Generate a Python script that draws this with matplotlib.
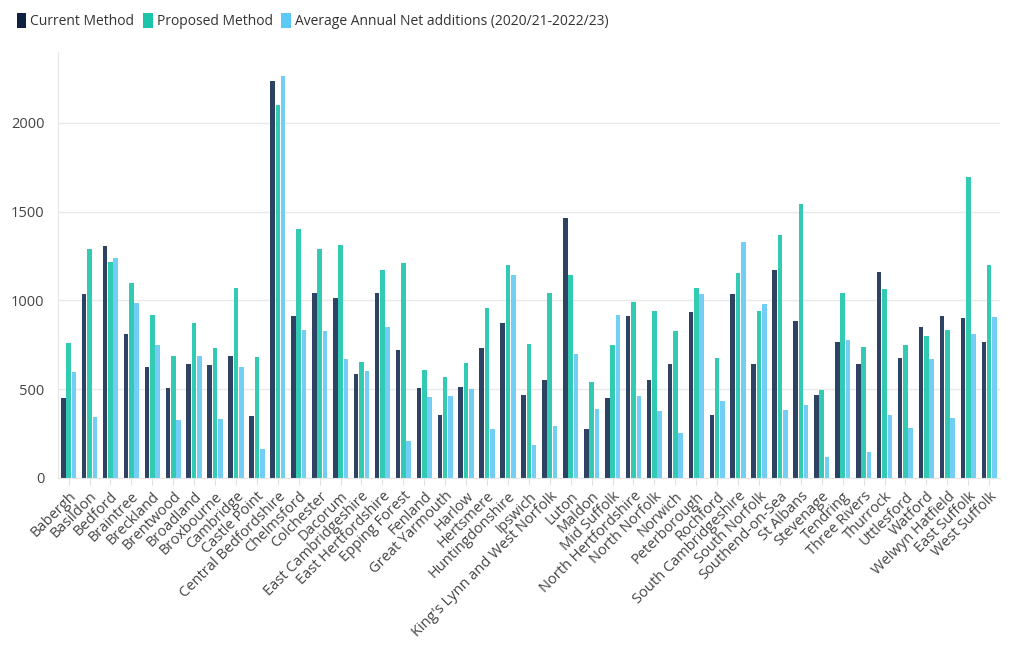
import matplotlib.pyplot as plt
from matplotlib.patches import Patch
import numpy as np

plt.rcParams['font.family'] = ['Open Sans', 'DejaVu Sans']

# local authorities
areas = ['Babergh', 'Basildon', 'Bedford', 'Braintree', 'Breckland', 'Brentwood',
         'Broadland', 'Broxbourne', 'Cambridge', 'Castle Point', 'Central Bedfordshire',
         'Chelmsford', 'Colchester', 'Dacorum', 'East Cambridgeshire', 'East Hertfordshire',
         'Epping Forest', 'Fenland', 'Great Yarmouth', 'Harlow', 'Hertsmere',
         'Huntingdonshire', 'Ipswich', "King's Lynn and West Norfolk", 'Luton', 'Maldon',
         'Mid Suffolk', 'North Hertfordshire', 'North Norfolk', 'Norwich', 'Peterborough',
         'Rochford', 'South Cambridgeshire', 'South Norfolk', 'Southend-on-Sea', 'St Albans',
         'Stevenage', 'Tendring', 'Three Rivers', 'Thurrock', 'Uttlesford', 'Watford',
         'Welwyn Hatfield', 'East Suffolk', 'West Suffolk']

current = [450, 1036, 1307, 811, 623, 508, 641, 634, 687, 348, 2238,
           912, 1042, 1014, 583, 1040, 722, 506, 352, 512, 730,
           873, 465, 553, 1462, 275, 450, 909, 553, 641, 935,
           356, 1036, 641, 1172, 884, 468, 767, 640, 1159, 675, 848,
           909, 903, 764]

proposed = [760, 1289, 1215, 1097, 916, 688, 875, 734, 1068, 683, 2099,
            1405, 1289, 1313, 653, 1172, 1208, 608, 568, 647, 957,
            1200, 754, 1040, 1142, 542, 751, 991, 941, 826, 1067,
            673, 1155, 941, 1371, 1544, 497, 1044, 737, 1065, 747, 799,
            833, 1695, 1198]

net_adds = [596, 342, 1238, 986, 747, 327, 685, 331, 626, 164, 2263,
            833, 826, 672, 604, 850, 209, 457, 461, 498, 275,
            1144, 184, 293, 698, 386, 918, 463, 378, 254, 1038,
            431, 1328, 980, 384, 410, 119, 777, 147, 354, 278, 668,
            339, 811, 907]

labels = ['Current Method', 'Proposed Method',
          'Average Annual Net additions (2020/21-2022/23)']
bar_colors = ['#2e4263', '#33cab4', '#72cef5']
key_colors = ['#0e2142', '#1cc4a9', '#5ccaf7']

fig = plt.figure(figsize=(10.2, 6.5), dpi=100)
ax = fig.add_axes([0.057, 0.265, 0.923, 0.655])

x = np.arange(len(areas))
w = 0.255
for i, vals in enumerate([current, proposed, net_adds]):
    ax.bar(x + (i - 1) * w, vals, width=w * 0.86, color=bar_colors[i], zorder=2)

ax.set_xlim(-0.5, len(areas) - 0.5)
ax.set_ylim(0, 2400)
ax.set_yticks([0, 500, 1000, 1500, 2000])
ax.grid(axis='y', color='#e9e9e9', linewidth=1, zorder=0)

ax.set_xticks(x)
ax.set_xticklabels(areas, rotation=45, ha='right', rotation_mode='anchor',
                   fontsize=10.5, color='#444444')
ax.tick_params(axis='x', length=5, color='#e0e0e0', pad=3)
ax.tick_params(axis='y', length=0, labelsize=10.5, labelcolor='#444444', pad=10)

for s in ['top', 'right']:
    ax.spines[s].set_visible(False)
ax.spines['left'].set_color('#e6e6e6')
ax.spines['bottom'].set_color('#e6e6e6')

handles = [Patch(facecolor=c, edgecolor='none') for c in key_colors]
fig.legend(handles, labels, loc='upper left', bbox_to_anchor=(0.004, 1.0),
           ncol=3, frameon=False, fontsize=10, handlelength=0.7,
           handleheight=1.3, handletextpad=0.3, columnspacing=0.6,
           labelcolor='#333333')

fig.savefig('out.png', dpi=100)
